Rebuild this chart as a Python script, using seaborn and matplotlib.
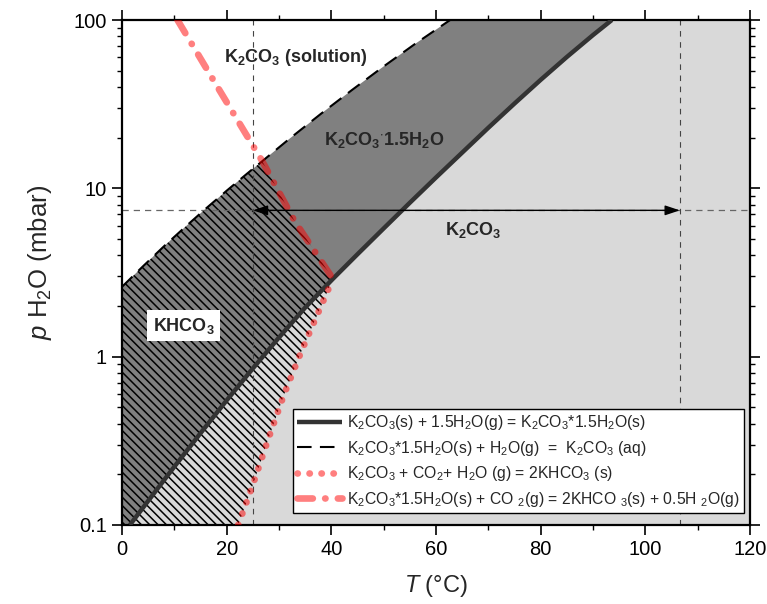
import numpy as np
import matplotlib
matplotlib.use("Agg")
import matplotlib.pyplot as plt
from matplotlib.patches import Polygon
from matplotlib.ticker import LogLocator, NullFormatter, MultipleLocator
import seaborn as sns

# ---------------- data ----------------
# K2CO3(s) + 1.5H2O(g) = K2CO3*1.5H2O(s)  (solid line)
solid_T = [1.5, 5, 10, 15, 20, 25, 30, 35, 40.3, 45, 50, 55, 60, 65, 70, 75, 80, 85, 90, 93.6]
solid_p = [0.10, 0.139, 0.222, 0.351, 0.550, 0.851, 1.30, 1.957, 2.9, 4.06, 5.78, 8.21,
           11.6, 16.3, 22.9, 31.9, 44.1, 60.3, 81.4, 100]
# K2CO3*1.5H2O(s) + H2O(g) = K2CO3(aq)  (dashed)
dash_T = [0, 4, 8, 12, 16, 20, 24, 26.8, 32, 38, 44, 50, 56, 62.7]
dash_p = [2.6, 3.44, 4.52, 5.87, 7.57, 9.68, 12.3, 14.5, 19.7, 27.7, 38.5, 53.0, 72.1, 100]
# K2CO3 + CO2 + H2O(g) = 2KHCO3(s)  (dotted)
dot_T = [22.2, 25, 28, 31, 34.3, 37.8, 40.3]
dot_p = [0.10, 0.173, 0.327, 0.600, 1.08, 1.92, 2.9]
# K2CO3*1.5H2O(s) + CO2(g) = 2KHCO3(s) + 0.5H2O(g)  (dash-dot)
dd_T = [10.6, 18.0, 26.8, 33.0, 40.3]
dd_p = [100, 41.2, 14.5, 6.37, 2.9]

ref_T = [25.0, 106.6]     # vertical reference lines
ref_p = 7.4               # horizontal reference line

legend_labels = [
    "K$_2$CO$_3$(s) + 1.5H$_2$O(g) = K$_2$CO$_3$*1.5H$_2$O(s)",
    "K$_2$CO$_3$*1.5H$_2$O(s) + H$_2$O(g)  =  K$_2$CO$_3$ (aq)",
    "K$_2$CO$_3$ + CO$_2$+ H$_2$O (g) = 2KHCO$_3$ (s)",
    "K$_2$CO$_3$*1.5H$_2$O(s) + CO $_2$(g) = 2KHCO $_3$(s) + 0.5H $_2$O(g)",
]

# ---------------- style ----------------
sns.set_style("ticks")
plt.rcParams["font.family"] = ["Liberation Sans", "DejaVu Sans"]
plt.rcParams["mathtext.fontset"] = "custom"
plt.rcParams["mathtext.rm"] = "Liberation Sans"
plt.rcParams["mathtext.it"] = "Liberation Sans:italic"
plt.rcParams["mathtext.bf"] = "Liberation Sans:bold"
plt.rcParams["mathtext.default"] = "regular"
plt.rcParams["hatch.color"] = "black"
plt.rcParams["hatch.linewidth"] = 1.1

fig = plt.figure(figsize=(7.67, 6.04), dpi=100)
ax = fig.add_axes([122 / 767, (604 - 525) / 604, 628 / 767, 505 / 604])
ax.set_yscale("log")
ax.set_xlim(0, 120)
ax.set_ylim(0.1, 100)

sT, sp = np.array(solid_T), np.array(solid_p)
dT, dp = np.array(dash_T), np.array(dash_p)
oT, op = np.array(dot_T), np.array(dot_p)
ddT, ddp = np.array(dd_T), np.array(dd_p)
x1 = (26.8, 14.5)   # dashed / dash-dot crossing
x2 = (40.3, 2.9)    # dash-dot / solid / dotted crossing

# light grey (K2CO3 region)
light = list(zip(sT, sp)) + [(120, 100), (120, 0.1)]
ax.add_patch(Polygon(light, closed=True, facecolor="#d9d9d9", edgecolor="none", zorder=1))
# dark grey (hydrate region)
dark = [(0, 0.1)] + list(zip(dT, dp)) + list(zip(sT[::-1], sp[::-1]))
ax.add_patch(Polygon(dark, closed=True, facecolor="#808080", edgecolor="none", zorder=1))
# hatched KHCO3 on dark
m1 = dT < x1[0]
m2 = (ddT > x1[0]) & (ddT < x2[0])
m3 = sT < x2[0]
hd = [(0, 0.1)] + list(zip(dT[m1], dp[m1])) + [x1] + list(zip(ddT[m2], ddp[m2])) + [x2] + \
     list(zip(sT[m3][::-1], sp[m3][::-1]))
ax.add_patch(Polygon(hd, closed=True, facecolor="none", edgecolor="black", lw=0,
                     hatch="\\\\\\\\", zorder=1.5))
# hatched KHCO3 on light
hl = list(zip(sT[m3], sp[m3])) + [x2] + list(zip(oT[::-1], op[::-1]))
ax.add_patch(Polygon(hl, closed=True, facecolor="none", edgecolor="black", lw=0,
                     hatch="\\\\\\\\", zorder=1.5))

# reference lines
for t in ref_T:
    ax.axvline(t, color="#444444", lw=0.8, ls=(0, (5, 5)), zorder=2)
ax.axhline(ref_p, color="#666666", lw=0.9, ls=(0, (5, 4)), zorder=2)
ax.annotate("", xy=(ref_T[1], ref_p), xytext=(ref_T[0], ref_p),
            arrowprops=dict(arrowstyle="<|-|>,head_length=0.6,head_width=0.2",
                            mutation_scale=15, lw=1.0, color="black",
                            shrinkA=0, shrinkB=0), zorder=4)

# curves
red = (1.0, 0.0, 0.0, 0.5)
sns.lineplot(x=solid_T, y=solid_p, ax=ax, sort=False, estimator=None, color="#333333",
             lw=3.2, zorder=3, solid_capstyle="butt", solid_joinstyle="round")
sns.lineplot(x=dash_T, y=dash_p, ax=ax, sort=False, estimator=None, color="black",
             lw=1.5, linestyle=(0, (7, 4)), zorder=3)
sns.lineplot(x=dot_T, y=dot_p, ax=ax, sort=False, estimator=None, color=red,
             lw=4.8, linestyle=(0, (0.05, 1.75)), dash_capstyle="round", zorder=3)
sns.lineplot(x=dd_T, y=dd_p, ax=ax, sort=False, estimator=None, color=red,
             lw=4.8, linestyle=(0, (2.3, 1.85, 0.05, 1.85)), dash_capstyle="round", zorder=3)
lines = ax.get_lines()[-4:]

# region labels
kw = dict(fontsize=13, fontweight="bold", ha="center", va="center", zorder=5)
ax.text(33.1, 59.5, "K$_2$CO$_3$ (solution)", **kw)
ax.text(50.1, 19.5, "K$_2$CO$_3$$^{\\cdot}$1.5H$_2$O", **kw)
ax.text(67.1, 5.69, "K$_2$CO$_3$", **kw)
ax.text(11.8, 1.53, "KHCO$_3$", bbox=dict(facecolor="white", edgecolor="none", pad=4), **kw)

leg = ax.legend(lines, legend_labels, loc="lower left", bbox_to_anchor=(0.272, 0.024),
                borderaxespad=0, fontsize=11.3, frameon=True, fancybox=False,
                edgecolor="black", framealpha=1, handlelength=2.9, handletextpad=0.3,
                borderpad=0.25, labelspacing=0.42)
leg.get_frame().set_linewidth(1.0)
leg.set_zorder(6)

# axes
ax.xaxis.set_major_locator(MultipleLocator(20))
ax.xaxis.set_minor_locator(MultipleLocator(10))
ax.set_yticks([0.1, 1, 10, 100])
ax.set_yticklabels(["0.1", "1", "10", "100"])
ax.yaxis.set_minor_locator(LogLocator(base=10, subs=range(2, 10), numticks=20))
ax.yaxis.set_minor_formatter(NullFormatter())
ax.tick_params(which="both", direction="out", top=True, right=True,
               labeltop=False, labelright=False, colors="black")
ax.tick_params(which="major", length=7, width=1.2, labelsize=14.5, pad=4)
ax.tick_params(which="minor", length=3.5, width=1.0)
for s in ax.spines.values():
    s.set_linewidth(1.6)
    s.set_color("black")
ax.set_xlabel("$\\mathit{T}$ (°C)", fontsize=17, labelpad=10)
ax.set_ylabel("$\\mathit{p}$ H$_2$O (mbar)", fontsize=18.5)
ax.yaxis.set_label_coords(-0.108, 0.52)

fig.savefig("out.png", dpi=100)
